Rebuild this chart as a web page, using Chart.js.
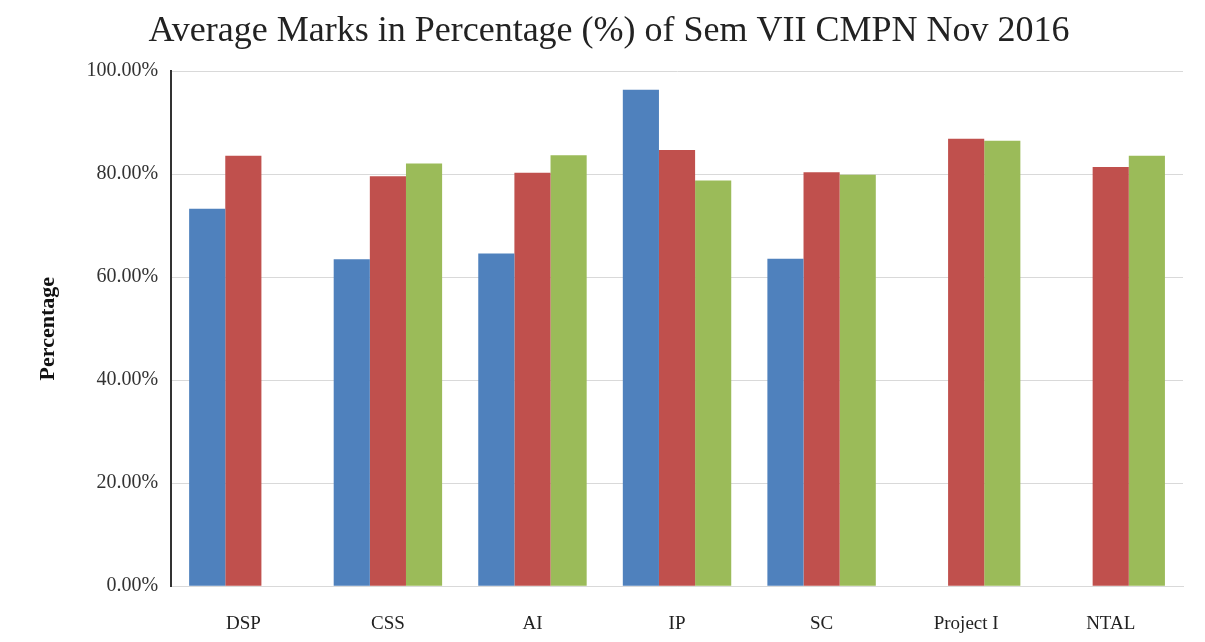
<!DOCTYPE html>
<html>
<head>
<meta charset="utf-8">
<script src="https://cdn.jsdelivr.net/npm/chart.js@4.4.0/dist/chart.umd.min.js"></script>
<style>
  body { margin: 0; background: #fff; }
  #wrap { width: 1205px; height: 642px; position: relative; }
</style>
</head>
<body>
<div id="wrap"><canvas id="myChart"></canvas></div>
<script>
const subjects = ['DSP', 'CSS', 'AI', 'IP', 'SC', 'Project I', 'NTAL'];
const seriesBlue = [73.3, 63.5, 64.6, 96.4, 63.6, null, null];
const seriesRed = [83.6, 79.6, 80.3, 84.7, 80.4, 86.9, 81.4];
const seriesGreen = [null, 82.1, 83.7, 78.8, 79.9, 86.5, 83.6];
const yTicks = [0, 20, 40, 60, 80, 100];

const serif = '"Liberation Serif", "Times New Roman", serif';

const ctx = document.getElementById('myChart');
const mychart = new Chart(ctx, {
  type: 'bar',
  data: {
    labels: subjects,
    datasets: [
      { label: 'Series 1', data: seriesBlue, backgroundColor: '#4F81BD' },
      { label: 'Series 2', data: seriesRed, backgroundColor: '#C0504D' },
      { label: 'Series 3', data: seriesGreen, backgroundColor: '#9BBB59' }
    ]
  },
  options: {
    responsive: true,
    maintainAspectRatio: false,
    animation: false,
    datasets: { bar: { categoryPercentage: 0.75, barPercentage: 1.0 } },
    layout: { padding: { left: 35, right: 22, top: 8, bottom: 7 } },
    plugins: {
      legend: { display: false },
      tooltip: { enabled: false },
      title: {
        display: true,
        text: 'Average Marks in Percentage (%) of Sem VII CMPN Nov 2016',
        color: '#222',
        font: { family: serif, size: 36, weight: 'normal' },
        padding: { top: 2, bottom: 18 }
      }
    },
    scales: {
      x: {
        // tick marks hidden; tickLength only used to push the labels down
        grid: { display: false, tickLength: 26 },
        border: { color: '#d9d9d9', width: 1 },
        ticks: {
          color: '#222',
          padding: 0,
          font: { family: serif, size: 19 }
        }
      },
      y: {
        min: 0,
        max: 100,
        afterBuildTicks: (axis) => { axis.ticks = yTicks.map((v) => ({ value: v })); },
        grid: { color: '#d9d9d9', drawTicks: false },
        border: { color: '#333', width: 2 },
        ticks: {
          color: '#333',
          padding: 13,
          font: { family: serif, size: 20 },
          callback: (v) => v.toFixed(2) + '%'
        },
        title: {
          display: true,
          text: 'Percentage',
          color: '#111',
          font: { family: serif, size: 22, weight: 'bold' },
          padding: { top: 0, bottom: 12 }
        }
      }
    }
  }
});
</script>
</body>
</html>
